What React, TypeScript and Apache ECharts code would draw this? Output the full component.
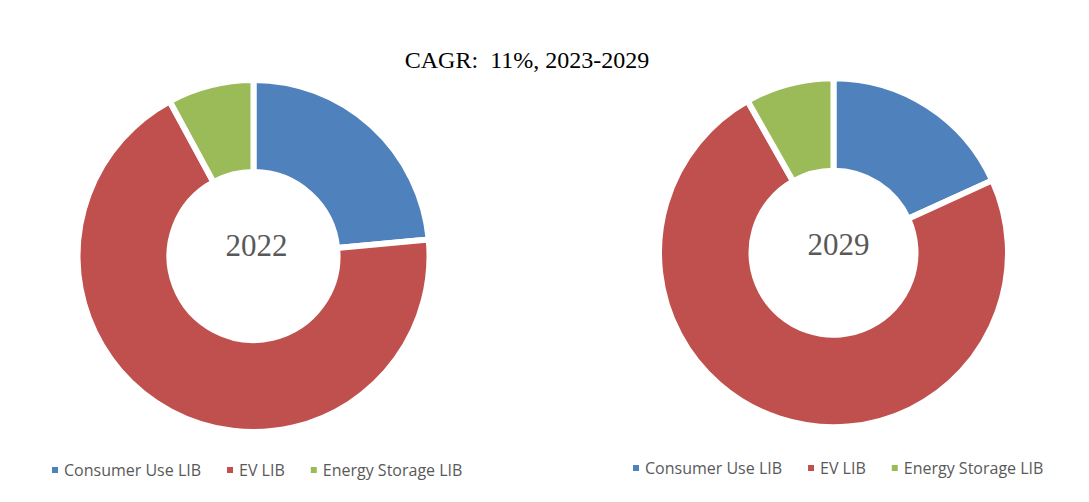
import React, { useEffect, useRef } from "react";
import * as echarts from "echarts";

const categories = ["Consumer Use LIB", "EV LIB", "Energy Storage LIB"];
const colors = ["#4F81BD", "#C0504D", "#9BBB59"];
const values2022 = [23.5, 68.6, 7.9];
const values2029 = [18.2, 73.6, 8.2];
const titleText = "CAGR:  11%, 2023-2029";
const yearLabels = ["2022", "2029"];

export default function App() {
  const ref = useRef<HTMLDivElement>(null);
  useEffect(() => {
    document.body.style.margin = "0";
    const chart = echarts.init(ref.current!, null, { renderer: "svg" });
    const mk = (vals: number[]) =>
      categories.map((c, i) => ({ name: c, value: vals[i], itemStyle: { color: colors[i] } }));
    const legendCommon = {
      data: categories,
      icon: "rect",
      itemWidth: 8,
      itemHeight: 8,
      itemGap: 24,
      textStyle: { fontFamily: "Open Sans", fontSize: 16, color: "#595959" },
      selectedMode: false,
    };
    const pieCommon = {
      type: "pie",
      startAngle: 90,
      clockwise: true,
      label: { show: false },
      labelLine: { show: false },
      emphasis: { disabled: true },
      itemStyle: { borderColor: "#fff", borderWidth: 6 },
    };
    chart.setOption({
      animation: false,
      backgroundColor: "#ffffff",
      legend: [
        { ...legendCommon, left: 45, top: 457 },
        { ...legendCommon, left: 626, top: 455 },
      ],
      graphic: [
        {
          type: "text",
          x: 527,
          y: 60,
          style: {
            text: titleText,
            font: "24px 'Liberation Serif'",
            fill: "#000",
            textAlign: "center",
            textVerticalAlign: "middle",
          },
        },
        {
          type: "text",
          x: 256.5,
          y: 245,
          style: {
            text: yearLabels[0],
            font: "31px 'Liberation Serif'",
            fill: "#595959",
            textAlign: "center",
            textVerticalAlign: "middle",
          },
        },
        {
          type: "text",
          x: 838.5,
          y: 244,
          style: {
            text: yearLabels[1],
            font: "31px 'Liberation Serif'",
            fill: "#595959",
            textAlign: "center",
            textVerticalAlign: "middle",
          },
        },
      ],
      series: [
        { ...pieCommon, center: [253.5, 256], radius: [84, 176], data: mk(values2022) },
        { ...pieCommon, center: [833.5, 252.7], radius: [82, 174.5], data: mk(values2029) },
      ],
    });
    return () => chart.dispose();
  }, []);
  return <div ref={ref} style={{ width: 1089, height: 502, overflow: "hidden" }} />;
}
